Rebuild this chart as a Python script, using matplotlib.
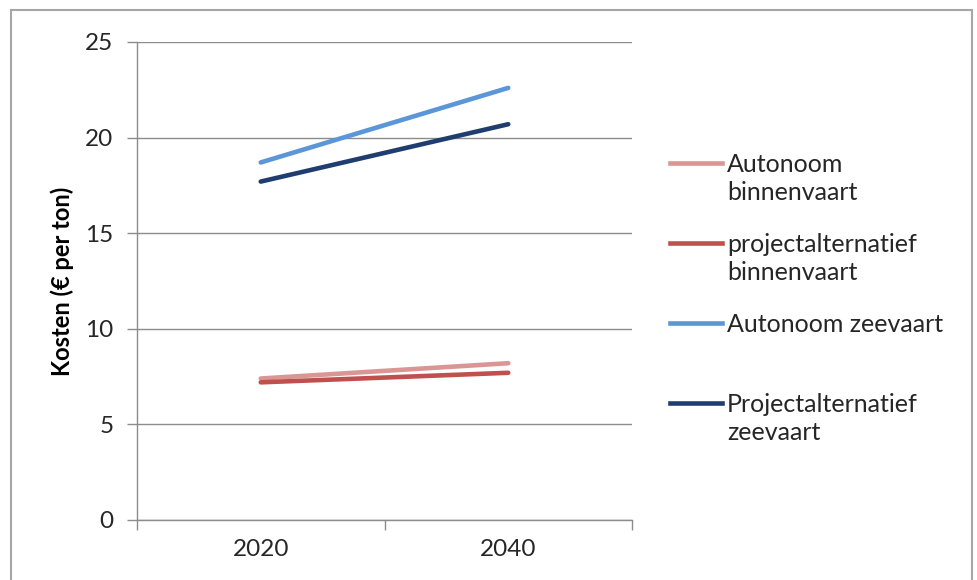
import matplotlib
matplotlib.use("Agg")
import matplotlib.pyplot as plt
from matplotlib.lines import Line2D
from matplotlib.patches import Rectangle

# Data
years = ["2020", "2040"]
series_names = [
    "Autonoom\nbinnenvaart",
    "projectalternatief\nbinnenvaart",
    "Autonoom zeevaart",
    "Projectalternatief\nzeevaart",
]
autonoom_binnenvaart = [7.4, 8.2]
project_binnenvaart = [7.2, 7.7]
autonoom_zeevaart = [18.7, 22.6]
project_zeevaart = [17.7, 20.7]
y_ticks = [0, 5, 10, 15, 20, 25]

series_values = [autonoom_binnenvaart, project_binnenvaart, autonoom_zeevaart, project_zeevaart]
colors = ["#D99694", "#C0504D", "#5A96D8", "#1F3D6E"]

plt.rcParams["font.family"] = ["Lato", "DejaVu Sans"]

W, H = 977, 580
fig = plt.figure(figsize=(W / 100, H / 100), dpi=100)
ax = fig.add_axes([137 / W, (H - 520) / H, (632 - 137) / W, (520 - 42) / H])

x = list(range(len(years)))
for vals, c in zip(series_values, colors):
    ax.plot(x, vals, color=c, lw=3.3, solid_capstyle="round")

grid_c = "#8C8C8C"
ax.set_xlim(-0.5, len(years) - 0.5)
ax.set_ylim(0, 25)
ax.set_yticks(y_ticks)
ax.yaxis.grid(True, color=grid_c, lw=1)
ax.set_axisbelow(True)
for s in ["top", "right"]:
    ax.spines[s].set_visible(False)
for s in ["left", "bottom"]:
    ax.spines[s].set_color(grid_c)
    ax.spines[s].set_linewidth(1)

# Category boundaries carry the tick marks, labels sit between them
ax.set_xticks([i - 0.5 for i in range(len(years) + 1)])
ax.set_xticklabels([])
ax.set_xticks(x, minor=True)
ax.set_xticklabels(years, minor=True)
ax.tick_params(axis="x", which="major", length=7, color=grid_c, width=1)
ax.tick_params(axis="x", which="minor", length=0, labelsize=17.5, pad=14, labelcolor="#262626")
ax.tick_params(axis="y", length=7, color=grid_c, width=1, labelsize=17.5, pad=10, labelcolor="#262626")

ax.set_ylabel("Kosten (€ per ton)", fontsize=17, fontweight="bold", labelpad=8)

# Legend
handle_y = [163, 243, 323, 403]
for name, c, hy in zip(series_names, colors, handle_y):
    yf = (H - hy) / H
    fig.add_artist(Line2D([670 / W, 722 / W], [yf, yf], color=c, lw=3.3,
                          transform=fig.transFigure))
    fig.text(727 / W, (H - hy + 10) / H, name, fontsize=18, va="top", ha="left",
             color="#262626", linespacing=1.25)

# Outer frame
fig.add_artist(Rectangle((11 / W, -0.05), (972 - 11) / W, (H - 10) / H + 0.05,
                         transform=fig.transFigure, fill=False, ec="#A6A6A6", lw=1.5))

fig.savefig("out.png", dpi=100)
